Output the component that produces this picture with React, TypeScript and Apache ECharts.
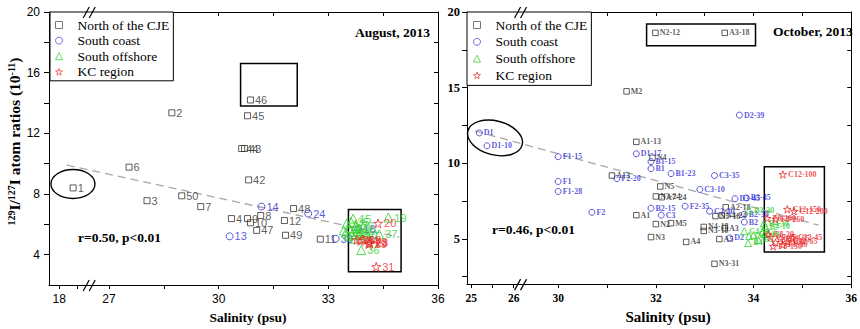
import React, { useEffect, useRef } from "react";
import * as echarts from "echarts";

type Pt = [number, number, string];

// ---------- August, 2013: [salinity (psu), 129I/127I (1e-11), station] ----------
const augNorth: Pt[] = [
  [18.38, 8.4, "1"], [28.72, 13.35, "2"], [28.04, 7.56, "3"], [30.35, 6.38, "4"],
  [27.55, 9.77, "6"], [29.51, 7.17, "7"], [31.15, 6.58, "8"], [30.79, 6.38, "9"],
  [30.87, 6.1, "10"], [32.78, 5.02, "11"], [31.8, 6.25, "12"], [30.82, 8.93, "42"],
  [30.71, 11.0, "43"], [30.63, 11.0, "44"], [30.79, 13.16, "45"], [30.87, 14.2, "46"],
  [31.04, 5.6, "47"], [32.05, 7.04, "48"], [31.83, 5.28, "49"], [28.99, 7.88, "50"],
];
const augCoast: Pt[] = [
  [31.17, 7.17, "14"], [32.45, 6.71, "24"], [30.3, 5.21, "13"], [33.82, 5.67, "16"], [33.2, 5.05, "33"],
];
const augOffshore: Pt[] = [
  [33.68, 6.38, "15"], [34.64, 6.45, "19"], [34.39, 5.34, "37"], [33.9, 4.3, "36"],
  [33.5, 6.05, "17"], [33.42, 5.6, "18"], [33.58, 5.75, "22"], [33.65, 5.35, "25"],
  [33.75, 5.9, "26"], [33.55, 5.25, "27"], [33.8, 5.55, "30"], [33.62, 6.15, "35"],
  [33.7, 5.05, "38"], [33.48, 5.45, "39"], [33.85, 5.3, "40"],
];
const augKC: Pt[] = [
  [34.36, 6.06, "20"], [34.31, 3.2, "31"], [34.14, 4.76, "28"], [34.1, 4.7, "29"],
  [34.12, 4.82, "23"], [33.78, 4.98, "21"], [33.95, 5.0, "32"], [33.88, 4.9, "34"],
];
const augFit: [number, number][] = [[18.21, 9.9], [34.94, 5.15]];
const augBoxes: [number, number, number, number][] = [[30.6, 32.15, 13.8, 16.6], [33.55, 34.99, 2.87, 6.97]];
const augEllipse: [number, number] = [18.375, 8.66];
const augXLabels = [18, 27, 30, 33, 36];
const augXTicks = [18, 18.5, 27, 28.5, 30, 31.5, 33, 34.5, 36];
const augYLabels = [4, 8, 12, 16, 20];
const augYTicks = [4, 6, 8, 10, 12, 14, 16, 18, 20];

// ---------- October, 2013 ----------
const octNorth: Pt[] = [
  [31.99, 18.62, "N2-12"], [33.41, 18.62, "A3-18"], [31.4, 14.75, "M2"], [31.6, 11.41, "A1-13"],
  [31.93, 10.36, "N4"], [31.1, 9.18, "A13"], [32.09, 8.46, "N5"], [32.0, 7.8, "N3-24"],
  [32.12, 7.75, "A7-24"], [31.6, 6.56, "A1"], [32.0, 5.97, "N2"], [32.31, 6.03, "M5"],
  [31.9, 5.11, "N3"], [32.62, 4.79, "A4"], [33.3, 4.98, "A5"], [33.2, 3.34, "N3-31"],
  [32.98, 5.52, "N3-18"], [32.98, 5.78, "N4-18"], [33.41, 5.7, "A3"], [33.22, 6.5, "N5-18"],
  [33.43, 7.08, "A2-18"], [33.35, 6.55, "N4-24"],
];
const octCoast: Pt[] = [
  [25.19, 12.0, "D1"], [25.37, 11.15, "D1-10"], [30.0, 10.43, "F1-15"], [30.0, 8.79, "F1"],
  [30.0, 8.13, "F1-28"], [30.69, 6.75, "F2"], [31.2, 8.98, "F2-20"], [31.6, 10.62, "D1-17"],
  [31.9, 10.1, "B1-15"], [31.9, 9.64, "B1"], [32.31, 9.31, "B1-23"], [33.2, 9.18, "C3-35"],
  [32.9, 8.26, "C3-10"], [33.71, 13.18, "D2-39"], [31.9, 7.02, "B2-15"], [32.11, 6.56, "C3"],
  [32.6, 7.15, "F2-35"], [33.1, 6.82, "C3-30"], [33.62, 7.65, "D3-45"], [33.85, 7.7, "B3-45"],
  [33.81, 6.62, "B2-30"], [33.81, 6.1, "B2"], [33.51, 5.05, "D2"],
];
const octOffshore: Pt[] = [
  [33.91, 6.88, "B3-30"], [34.21, 6.03, "B4-30"], [34.23, 5.84, "B4-10"], [33.81, 5.5, "C4-10"],
  [33.91, 5.18, "C4"], [34.0, 5.25, "C5-10"], [34.1, 4.92, "B5"], [33.89, 4.72, "B4"], [34.19, 5.44, "C5"],
];
const octKC: Pt[] = [
  [34.6, 9.25, "C12-100"], [34.69, 6.95, "C12-150"], [34.83, 6.82, "C12-200"], [34.45, 6.3, "F8-260"],
  [34.28, 6.35, "F8-200"], [34.35, 5.1, "C9-45"], [34.55, 5.0, "C11-65"], [34.8, 5.05, "C12-45"],
  [34.45, 4.75, "F8-100"], [34.7, 4.8, "C12-65"], [34.4, 4.5, "F8-150"], [34.6, 4.6, "F8-30"], [34.3, 5.3, "C8-20"],
];
const octFit: [number, number][] = [[25.09, 12.13], [35.33, 5.9]];
const octBoxes: [number, number, number, number][] = [[31.81, 34.04, 17.77, 19.21], [34.22, 35.45, 4.13, 9.77]];
const octEllipse: [number, number] = [25.56, 11.67];
const octXLabels = [25, 26, 30, 32, 34, 36];
const octXTicks = [25, 25.5, 26, 30, 31, 32, 33, 34, 35, 36];
const octYLabels = [5, 10, 15, 20];
const octYTicks = [2.5, 5, 7.5, 10, 12.5, 15, 17.5, 20];

const NAMES = ["North of the CJE", "South coast", "South offshore", "KC region"];
const COLORS = ["#333333", "#2f2fd6", "#2ed12e", "#e82a2a"];
const LEGEND_COLORS = ["#555555", "#4a4ae0", "#3fd83f", "#e84a4a"];
const STAR = "path://M50,2 L61,36 L97,36 L68,57 L79,92 L50,71 L21,92 L32,57 L3,36 L39,36 Z";
const SYMBOLS = ["rect", "circle", "triangle", STAR];

const SERIF = '"Liberation Serif", "Times New Roman", serif';
const SANS = '"Liberation Sans", Arial, sans-serif';

// broken salinity axes (scale functions)
const augScale = (s: number) => (s < 22 ? s + 7.64 : s);
const octScale = (s: number) => (s < 28 ? 29.09 + (s - 26) * 0.87 : s);
const AUG_MIN = augScale(17.72);
const OCT_MIN = octScale(24.9);
const AUG_BREAK = augScale(18.82);
const OCT_BREAK = 29.23;

const fmtFrom = (labels: number[], scale: (s: number) => number) => (v: number) => {
  const hit = labels.find((l) => Math.abs(scale(l) - v) < 1e-6);
  return hit === undefined ? "" : String(hit);
};

function scatter(
  idx: number, data: Pt[], scale: (s: number) => number, axis: number,
  sizes: number[], label: any
) {
  return {
    type: "scatter",
    name: NAMES[idx],
    xAxisIndex: axis,
    yAxisIndex: axis,
    symbol: SYMBOLS[idx],
    symbolSize: sizes[idx],
    itemStyle: { color: "transparent", borderColor: COLORS[idx], borderWidth: 1 },
    label: {
      show: true, position: "right", distance: 1, color: COLORS[idx],
      formatter: (p: any) => p.value[2], ...label,
    },
    emphasis: { disabled: true },
    data: data.map((d) => [scale(d[0]), d[1], d[2]]),
    z: 3 + idx,
  };
}

function fitSeries(fit: [number, number][], boxes: [number, number, number, number][], scale: (s: number) => number, axis: number) {
  return {
    type: "line",
    xAxisIndex: axis,
    yAxisIndex: axis,
    symbol: "none",
    lineStyle: { color: "#a8a8a8", width: 1.3, type: [8, 5] },
    data: fit.map((d) => [scale(d[0]), d[1]]),
    markArea: {
      silent: true,
      itemStyle: { color: "transparent", borderColor: "#000", borderWidth: 1.5 },
      data: boxes.map((b) => [{ coord: [scale(b[0]), b[3]] }, { coord: [scale(b[1]), b[2]] }]),
    },
    z: 2,
  };
}

const axisLine = { lineStyle: { color: "#000", width: 1 } };

function xAxes(grid: number, min: number, ticks: number[], labels: number[], scale: (s: number) => number, labelStyle: any, nameStyle: any, nameGap: number) {
  return [
    {
      type: "value", gridIndex: grid, position: "bottom", min, max: 36,
      axisLine, splitLine: { show: false },
      axisTick: { show: true, length: 4, lineStyle: { color: "#000" }, customValues: ticks.map(scale) },
      axisLabel: { customValues: labels.map(scale), formatter: fmtFrom(labels, scale), color: "#000", ...labelStyle },
      name: "Salinity (psu)", nameLocation: "middle", nameGap,
      nameTextStyle: { fontFamily: SERIF, fontWeight: "bold", color: "#000", ...nameStyle },
    },
    {
      type: "value", gridIndex: grid, position: "top", min, max: 36,
      axisLine, splitLine: { show: false },
      axisTick: { show: true, inside: true, length: 4, lineStyle: { color: "#000" }, customValues: ticks.map(scale) },
      axisLabel: { show: false },
    },
  ];
}

function yAxes(grid: number, ticks: number[], labels: number[], labelStyle: any, extra: any) {
  return [
    {
      type: "value", gridIndex: grid, position: "left", min: 2, max: 20,
      axisLine, splitLine: { show: false },
      axisTick: { show: true, length: 5, lineStyle: { color: "#000" }, customValues: ticks },
      axisLabel: { customValues: labels, color: "#000", ...labelStyle },
      ...extra,
    },
    {
      type: "value", gridIndex: grid, position: "right", min: 2, max: 20,
      axisLine, splitLine: { show: false },
      axisTick: { show: true, inside: true, length: 4, lineStyle: { color: "#000" }, customValues: ticks },
      axisLabel: { show: false },
    },
  ];
}

const yTitle = {
  name: "{s|129}{t|I/}{s|127}{t|I atom ratios (10}{s|-11}{t|)}",
  nameLocation: "middle",
  nameRotate: 90,
  nameGap: 22,
  nameTextStyle: {
    padding: [0, 0, 0, 14],
    rich: {
      t: { fontFamily: SERIF, fontWeight: "bold", fontSize: 15.5, color: "#000" },
      s: { fontFamily: SERIF, fontWeight: "bold", fontSize: 10, color: "#000", verticalAlign: "top" },
    },
  },
};

function legend(left: number, gap: number, padding: number[], textPad: number) {
  return {
    data: NAMES.map((name, i) => ({
      name,
      icon: SYMBOLS[i],
      itemStyle: { color: "transparent", borderColor: LEGEND_COLORS[i], borderWidth: 1 },
    })),
    orient: "vertical",
    left, top: 12,
    padding,
    itemGap: gap,
    itemWidth: 7,
    itemHeight: 7,
    borderColor: "#000",
    borderWidth: 1,
    backgroundColor: "#fff",
    selectedMode: false,
    textStyle: { fontFamily: SERIF, fontSize: 13.5, color: "#000", padding: [0, 0, 0, textPad] },
    z: 10,
  };
}

function textTitle(text: string, left: number, top: number) {
  return {
    text, left, top, padding: 0,
    textStyle: { fontFamily: SERIF, fontWeight: "bold", fontSize: 13.5, color: "#000" },
  };
}

const augSizes = [6, 7, 9, 9];
const octSizes = [5.5, 6, 7, 7.5];
const augLabel = { fontFamily: SANS, fontSize: 11 };
const octLabel = { fontFamily: SERIF, fontWeight: "bold", fontSize: 8 };

const option: any = {
  animation: false,
  backgroundColor: "#fff",
  grid: [
    { left: 49, top: 12, width: 389, height: 276 },
    { left: 467, top: 12, width: 388, height: 276 },
  ],
  title: [
    textTitle("August, 2013", 355, 25),
    textTitle("October, 2013", 773, 24),
    textTitle("r=0.50, p<0.01", 78, 230),
    textTitle("r=0.46, p<0.01", 492, 222),
  ],
  legend: [legend(50, 1.6, [6, 4, 2, 5], 10), legend(467, 2.8, [6, 4, 3, 6], 10)],
  xAxis: [
    ...xAxes(0, AUG_MIN, augXTicks, augXLabels, augScale, { fontFamily: SANS, fontSize: 12, margin: 8 }, { fontSize: 13.5, padding: [0, 0, 0, 9] }, 25),
    ...xAxes(1, OCT_MIN, octXTicks, octXLabels, octScale, { fontFamily: SERIF, fontWeight: "bold", fontSize: 11.5, margin: 8 }, { fontSize: 15, padding: [0, 0, 0, 18] }, 18),
  ],
  yAxis: [
    ...yAxes(0, augYTicks, augYLabels, { fontFamily: SANS, fontSize: 12, margin: 9 }, yTitle),
    ...yAxes(1, octYTicks, octYLabels, { fontFamily: SERIF, fontWeight: "bold", fontSize: 12.5, margin: 7 }, {}),
  ],
  series: [
    fitSeries(augFit, augBoxes, augScale, 0),
    scatter(0, augNorth, augScale, 0, augSizes, augLabel),
    scatter(1, augCoast, augScale, 0, augSizes, augLabel),
    scatter(2, augOffshore, augScale, 0, augSizes, augLabel),
    scatter(3, augKC, augScale, 0, augSizes, augLabel),
    fitSeries(octFit, octBoxes, octScale, 2),
    scatter(0, octNorth, octScale, 2, octSizes, octLabel),
    scatter(1, octCoast, octScale, 2, octSizes, octLabel),
    scatter(2, octOffshore, octScale, 2, octSizes, octLabel),
    scatter(3, octKC, octScale, 2, octSizes, octLabel),
  ],
};

function breakMarks(x: number, yTop: number, yBot: number) {
  const out: any[] = [];
  [yTop, yBot].forEach((y) => {
    [-3, 3].forEach((dx) => {
      out.push({
        type: "line",
        shape: { x1: x + dx - 3, y1: y + 6, x2: x + dx + 3, y2: y - 5 },
        style: { stroke: "#000", lineWidth: 1.2 },
        z: 20,
      });
    });
  });
  return out;
}

export default function App() {
  const ref = useRef<HTMLDivElement>(null);
  useEffect(() => {
    document.body.style.margin = "0";
    const chart = echarts.init(ref.current!, null, { renderer: "svg" });
    chart.setOption(option);

    const px = (axis: number, x: number, y: number) =>
      chart.convertToPixel({ xAxisIndex: axis, yAxisIndex: axis }, [x, y]) as number[];

    const aC = px(0, augScale(augEllipse[0]), augEllipse[1]);
    const oC = px(2, octScale(octEllipse[0]), octEllipse[1]);
    const aTop = px(0, AUG_BREAK, 20), aBot = px(0, AUG_BREAK, 2);
    const oTop = px(2, OCT_BREAK, 20), oBot = px(2, OCT_BREAK, 2);

    chart.setOption({
      graphic: [
        {
          type: "ellipse", x: aC[0], y: aC[1],
          shape: { cx: 0, cy: 0, rx: 22, ry: 14.5 },
          style: { fill: "none", stroke: "#000", lineWidth: 1.4 }, z: 20,
        },
        {
          type: "ellipse", x: oC[0], y: oC[1], rotation: -0.25,
          shape: { cx: 0, cy: 0, rx: 28, ry: 17 },
          style: { fill: "none", stroke: "#000", lineWidth: 1.4 }, z: 20,
        },
        ...breakMarks(aTop[0], aTop[1], aBot[1]),
        ...breakMarks(oTop[0], oTop[1], oBot[1]),
      ],
    });
    return () => chart.dispose();
  }, []);
  return <div ref={ref} style={{ width: 860, height: 329 }} />;
}
